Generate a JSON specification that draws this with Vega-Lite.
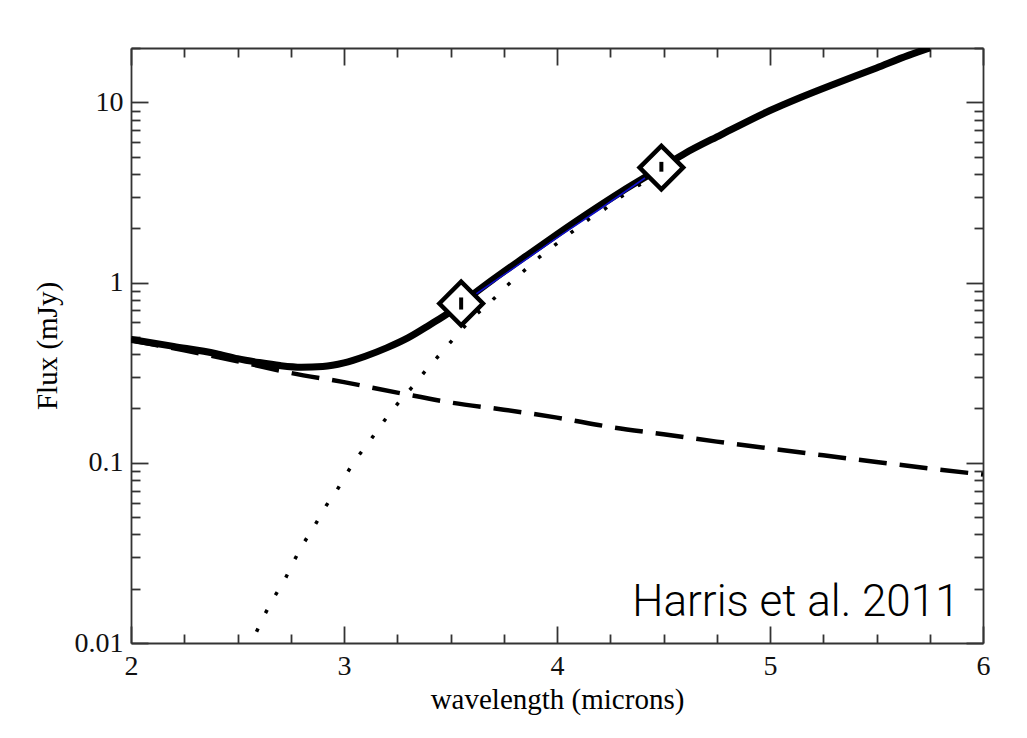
{
  "$schema": "https://vega.github.io/schema/vega-lite/v6.json",
  "autosize": {"type": "none"},
  "padding": {"left": 131, "top": 48, "right": 44, "bottom": 95},
  "width": 852,
  "height": 595,
  "background": "white",
  "config": {
    "view": {"stroke": null},
    "axis": {
      "domainColor": "#333333",
      "domainWidth": 1.8,
      "tickColor": "#333333",
      "tickWidth": 1.8,
      "grid": false,
      "labelFont": "Liberation Serif",
      "labelFontSize": 28,
      "labelColor": "#111111",
      "labelOverlap": false,
      "labelFlush": false,
      "titleFont": "Liberation Serif",
      "titleFontSize": 29,
      "titleFontWeight": "normal",
      "titleColor": "black"
    }
  },
  "datasets": {
    "total": [
      {"w": 2.0, "flux": 0.483}, {"w": 2.2, "flux": 0.442}, {"w": 2.4, "flux": 0.403},
      {"w": 2.5, "flux": 0.378}, {"w": 2.6, "flux": 0.36}, {"w": 2.7, "flux": 0.346},
      {"w": 2.8, "flux": 0.339}, {"w": 2.9, "flux": 0.342}, {"w": 3.0, "flux": 0.358},
      {"w": 3.1, "flux": 0.39}, {"w": 3.2, "flux": 0.434}, {"w": 3.3, "flux": 0.493},
      {"w": 3.4, "flux": 0.58}, {"w": 3.5, "flux": 0.69}, {"w": 3.55, "flux": 0.765},
      {"w": 3.7, "flux": 1.04}, {"w": 3.85, "flux": 1.39}, {"w": 4.0, "flux": 1.85},
      {"w": 4.15, "flux": 2.44}, {"w": 4.3, "flux": 3.18}, {"w": 4.49, "flux": 4.34},
      {"w": 4.6, "flux": 5.2}, {"w": 4.77, "flux": 6.6}, {"w": 5.0, "flux": 9.0},
      {"w": 5.14, "flux": 10.6}, {"w": 5.3, "flux": 12.6}, {"w": 5.5, "flux": 15.5},
      {"w": 5.65, "flux": 18.2}, {"w": 5.75, "flux": 20.0}
    ],
    "reflected": [
      {"w": 2.0, "flux": 0.478}, {"w": 2.25, "flux": 0.42}, {"w": 2.5, "flux": 0.366},
      {"w": 2.75, "flux": 0.315}, {"w": 3.0, "flux": 0.28}, {"w": 3.25, "flux": 0.245},
      {"w": 3.5, "flux": 0.216}, {"w": 3.75, "flux": 0.197}, {"w": 4.0, "flux": 0.178},
      {"w": 4.25, "flux": 0.158}, {"w": 4.5, "flux": 0.144}, {"w": 4.75, "flux": 0.131},
      {"w": 5.0, "flux": 0.12}, {"w": 5.25, "flux": 0.11}, {"w": 5.5, "flux": 0.101},
      {"w": 5.75, "flux": 0.093}, {"w": 6.0, "flux": 0.086}
    ],
    "thermal": [
      {"w": 2.55, "flux": 0.0091}, {"w": 2.587, "flux": 0.0114}, {"w": 2.624, "flux": 0.0141},
      {"w": 2.667, "flux": 0.0175}, {"w": 2.728, "flux": 0.0232}, {"w": 2.765, "flux": 0.0285},
      {"w": 2.808, "flux": 0.0353}, {"w": 2.869, "flux": 0.0462}, {"w": 2.915, "flux": 0.0574},
      {"w": 2.967, "flux": 0.0705}, {"w": 3.005, "flux": 0.0842}, {"w": 3.056, "flux": 0.1045},
      {"w": 3.117, "flux": 0.13}, {"w": 3.169, "flux": 0.159}, {"w": 3.254, "flux": 0.214},
      {"w": 3.319, "flux": 0.262}, {"w": 3.38, "flux": 0.321}, {"w": 3.446, "flux": 0.394},
      {"w": 3.516, "flux": 0.49}, {"w": 3.606, "flux": 0.64}, {"w": 3.685, "flux": 0.775},
      {"w": 3.765, "flux": 0.96}, {"w": 3.836, "flux": 1.136}, {"w": 3.915, "flux": 1.376},
      {"w": 3.986, "flux": 1.6}, {"w": 4.066, "flux": 1.89}, {"w": 4.146, "flux": 2.23},
      {"w": 4.221, "flux": 2.54}, {"w": 4.296, "flux": 2.96}, {"w": 4.371, "flux": 3.4},
      {"w": 4.4, "flux": 3.55}
    ],
    "fit": [
      {"w": 3.615, "flux": 0.855}, {"w": 3.8, "flux": 1.21}, {"w": 4.0, "flux": 1.77},
      {"w": 4.2, "flux": 2.55}, {"w": 4.413, "flux": 3.8}
    ],
    "obs": [
      {"w": 3.55, "flux": 0.765, "lo": 0.708, "hi": 0.826},
      {"w": 4.49, "flux": 4.34, "lo": 4.12, "hi": 4.67}
    ],
    "note": [
      {"text": "Harris et al. 2011"}
    ]
  },
  "layer": [
    {
      "data": {"name": "reflected"},
      "mark": {"type": "line", "color": "black", "strokeWidth": 4.5, "strokeDash": [28, 13], "strokeCap": "butt", "interpolate": "monotone", "clip": true},
      "encoding": {
        "x": {"field": "w", "type": "quantitative", "scale": {"domain": [2, 6], "nice": false, "zero": false},
          "axis": {"orient": "top", "title": null, "labels": false,
            "values": [2, 2.25, 2.5, 2.75, 3, 3.25, 3.5, 3.75, 4, 4.25, 4.5, 4.75, 5, 5.25, 5.5, 5.75, 6],
            "tickSize": {"condition": {"test": "datum.value % 1 === 0", "value": -17}, "value": -9}}},
        "y": {"field": "flux", "type": "quantitative", "scale": {"type": "log", "domain": [0.01, 20], "nice": false},
          "axis": {"orient": "right", "title": null, "labels": false,
            "values": [0.01, 0.02, 0.03, 0.04, 0.05, 0.06, 0.07, 0.08, 0.09, 0.1, 0.2, 0.3, 0.4, 0.5, 0.6, 0.7, 0.8, 0.9, 1, 2, 3, 4, 5, 6, 7, 8, 9, 10, 20],
            "tickSize": {"condition": {"test": "abs(log(datum.value)/LN10 - round(log(datum.value)/LN10)) < 0.000001", "value": -17}, "value": -9}}}
      }
    },
    {
      "data": {"name": "thermal"},
      "mark": {"type": "line", "color": "black", "strokeWidth": 3.5, "strokeDash": [3.5, 17], "strokeCap": "butt", "interpolate": "monotone", "clip": true},
      "encoding": {
        "x": {"field": "w", "type": "quantitative", "axis": null},
        "y": {"field": "flux", "type": "quantitative", "axis": null}
      }
    },
    {
      "data": {"name": "total"},
      "mark": {"type": "line", "color": "black", "strokeWidth": 7, "interpolate": "monotone", "clip": true},
      "encoding": {
        "x": {"field": "w", "type": "quantitative",
          "axis": {"orient": "bottom", "title": "wavelength (microns)",
            "values": [2, 2.25, 2.5, 2.75, 3, 3.25, 3.5, 3.75, 4, 4.25, 4.5, 4.75, 5, 5.25, 5.5, 5.75, 6],
            "labelExpr": "datum.value % 1 === 0 ? format(datum.value, 'd') : ''",
            "labelPadding": 26, "titlePadding": -3,
            "tickSize": {"condition": {"test": "datum.value % 1 === 0", "value": -17}, "value": -9}}},
        "y": {"field": "flux", "type": "quantitative",
          "axis": {"orient": "left", "title": "Flux (mJy)",
            "values": [0.01, 0.02, 0.03, 0.04, 0.05, 0.06, 0.07, 0.08, 0.09, 0.1, 0.2, 0.3, 0.4, 0.5, 0.6, 0.7, 0.8, 0.9, 1, 2, 3, 4, 5, 6, 7, 8, 9, 10, 20],
            "labelExpr": "datum.value == 10 ? '10' : datum.value == 1 ? '1' : datum.value == 0.1 ? '0.1' : datum.value == 0.01 ? '0.01' : ''",
            "labelPadding": 25, "titlePadding": 12,
            "tickSize": {"condition": {"test": "abs(log(datum.value)/LN10 - round(log(datum.value)/LN10)) < 0.000001", "value": -17}, "value": -9}}}
      }
    },
    {
      "data": {"name": "fit"},
      "mark": {"type": "line", "color": "#1010c8", "strokeWidth": 1.6, "interpolate": "monotone"},
      "encoding": {
        "x": {"field": "w", "type": "quantitative", "axis": null},
        "y": {"field": "flux", "type": "quantitative", "axis": null}
      }
    },
    {
      "data": {"name": "obs"},
      "mark": {"type": "point", "shape": "diamond", "size": 1900, "filled": true, "fill": "white", "stroke": "black", "strokeWidth": 4.5, "opacity": 1},
      "encoding": {
        "x": {"field": "w", "type": "quantitative", "axis": null},
        "y": {"field": "flux", "type": "quantitative", "axis": null}
      }
    },
    {
      "data": {"name": "obs"},
      "mark": {"type": "rule", "color": "black", "strokeWidth": 4},
      "encoding": {
        "x": {"field": "w", "type": "quantitative", "axis": null},
        "y": {"field": "lo", "type": "quantitative", "axis": null},
        "y2": {"field": "hi"}
      }
    },
    {
      "data": {"name": "note"},
      "mark": {"type": "text", "font": "Roboto", "fontWeight": 300, "fontSize": 44, "align": "right", "baseline": "alphabetic", "color": "black"},
      "encoding": {
        "text": {"field": "text"},
        "x": {"datum": 5.89, "type": "quantitative", "axis": null},
        "y": {"datum": 0.0141, "type": "quantitative", "axis": null}
      }
    }
  ],
  "resolve": {"axis": {"x": "independent", "y": "independent"}}
}
